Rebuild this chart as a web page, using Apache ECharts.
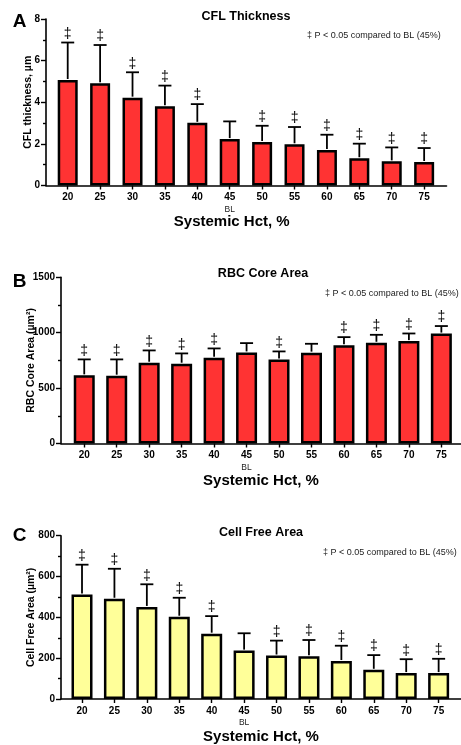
<!DOCTYPE html>
<html>
<head>
<meta charset="utf-8">
<script src="https://cdn.jsdelivr.net/npm/echarts@6/dist/echarts.min.js"></script>
<style>
html,body{margin:0;padding:0;background:#fff;}
#chart{width:461px;height:745px;}
</style>
</head>
<body>
<div id="chart"></div>
<script>
// ---------- data ----------
const categories = ['20', '25', '30', '35', '40', '45', '50', '55', '60', '65', '70', '75'];
const baselineCategory = '45';
const baselineTag = 'BL';
const xAxisTitle = 'Systemic Hct, %';
const noteText = '\u2021 P < 0.05 compared to BL (45%)';
const sigMark = '\u2021';

const panelLetters = ['A', 'B', 'C'];
const panelTitles = ['CFL Thickness', 'RBC Core Area', 'Cell Free Area'];
const yTitles = ['CFL thickness, \u00b5m', 'RBC Core Area (\u00b5m\u00b2)', 'Cell Free Area (\u00b5m\u00b2)'];

const yMax = [8, 1500, 800];
const yStep = [2, 500, 200];

const cflMean  = [5.07, 4.91, 4.22, 3.81, 3.01, 2.23, 2.09, 1.98, 1.71, 1.31, 1.16, 1.13];
const cflUpper = [6.87, 6.75, 5.44, 4.80, 3.91, 3.08, 2.87, 2.81, 2.44, 2.01, 1.83, 1.80];
const cflSig   = [1, 1, 1, 1, 1, 0, 1, 1, 1, 1, 1, 1];

const rbcMean  = [615, 612, 729, 720, 774, 822, 759, 820, 886, 909, 924, 992];
const rbcUpper = [759, 759, 840, 813, 858, 906, 831, 900, 960, 981, 993, 1060];
const rbcSig   = [1, 1, 1, 1, 1, 0, 1, 0, 1, 1, 1, 1];

const cfaMean  = [512, 491, 451, 403, 320, 237, 213, 210, 186, 143, 127, 127];
const cfaUpper = [658, 638, 562, 496, 406, 322, 286, 289, 261, 215, 195, 197];
const cfaSig   = [1, 1, 1, 1, 1, 0, 1, 1, 1, 1, 1, 1];

const means  = [cflMean, rbcMean, cfaMean];
const uppers = [cflUpper, rbcUpper, cfaUpper];
const sigs   = [cflSig, rbcSig, cfaSig];

// ---------- layout / style ----------
const FONT = 'Liberation Sans, Arial, Helvetica, sans-serif';
const barColors = ['#FF3333', '#FF3333', '#FFFF99'];
const grids = [
  {left: 46, top: 19, width: 400.5, height: 166.5},
  {left: 61, top: 277.3, width: 400, height: 166.2},
  {left: 61, top: 535.7, width: 400, height: 167}
];
const xRange = [[-0.67, 11.69], [-0.716, 11.605], [-0.648, 11.69]];
const yNameGap = [12, 24, 24];
const xNamePad = [[0, 29, 0, 0], [0, 0, 0, 0], [0, 0, 0, 0]];
const xNameGap = [29, 30, 30];
const barW = [20, 21, 21];
const letterPos = [[19.5, 21.7], [19.7, 281.5], [19.7, 535.3]];
const titlePos = [[246, 16.2], [263, 274], [261, 532.5]];
const notePos = [[307, 36], [325, 294], [323, 553]];

const idx = categories.map((c, i) => i);
const blIndex = categories.indexOf(baselineCategory);

const option = {
  animation: false,
  backgroundColor: '#fff',
  grid: grids.map(g => Object.assign({containLabel: false}, g)),
  xAxis: grids.map((g, k) => ({
    type: 'value',
    gridIndex: k,
    min: xRange[k][0],
    max: xRange[k][1],
    splitLine: {show: false},
    axisLine: {show: true, onZero: false, lineStyle: {color: '#000', width: 1.6}},
    axisTick: {show: true, customValues: idx, length: 4, lineStyle: {color: '#000', width: 1.4}},
    axisLabel: {
      customValues: idx,
      margin: 6,
      formatter: v => {
        const i = Math.round(v);
        const c = categories[i];
        return i === blIndex ? '{n|' + c + '}\n{b|' + baselineTag + '}' : '{n|' + c + '}';
      },
      rich: {
        n: {fontFamily: FONT, fontWeight: 'bold', fontSize: 10, color: '#000', lineHeight: 12},
        b: {fontFamily: FONT, fontWeight: 'normal', fontSize: 8.5, color: '#222', lineHeight: 12}
      }
    },
    name: xAxisTitle,
    nameLocation: 'middle',
    nameGap: xNameGap[k],
    nameMoveOverlap: false,
    nameTextStyle: {fontFamily: FONT, fontWeight: 'bold', fontSize: 15, color: '#000', padding: xNamePad[k]}
  })),
  yAxis: grids.map((g, k) => ({
    type: 'value',
    gridIndex: k,
    min: 0,
    max: yMax[k],
    interval: yStep[k],
    splitLine: {show: false},
    axisLine: {show: true, onZero: false, lineStyle: {color: '#000', width: 1.6}},
    axisTick: {show: true, length: 5, lineStyle: {color: '#000', width: 1.4}},
    minorTick: {show: true, splitNumber: 2, length: 3, lineStyle: {color: '#000', width: 1.4}},
    axisLabel: {fontFamily: FONT, fontWeight: 'bold', fontSize: 10, color: '#000', margin: 6,
      formatter: v => String(v)},
    name: yTitles[k],
    nameLocation: 'middle',
    nameGap: yNameGap[k],
    nameMoveOverlap: false,
    nameTextStyle: {fontFamily: FONT, fontWeight: 'bold', fontSize: 10.5, color: '#000'}
  })),
  series: [],
  graphic: []
};

for (let k = 0; k < 3; k++) {
  option.series.push({
    type: 'bar',
    xAxisIndex: k,
    yAxisIndex: k,
    barWidth: barW[k],
    data: means[k].map((v, i) => [i, v]),
    itemStyle: {color: barColors[k], borderColor: '#000', borderWidth: 2.5},
    z: 2
  });
  option.series.push({
    type: 'custom',
    xAxisIndex: k,
    yAxisIndex: k,
    data: means[k].map((v, i) => [i, v, uppers[k][i], sigs[k][i]]),
    z: 3,
    renderItem: (params, api) => {
      const x = api.value(0), m = api.value(1), u = api.value(2), s = api.value(3);
      const p0 = api.coord([x, m]);
      const p1 = api.coord([x, u]);
      const hw = 6.5;
      const children = [
        {type: 'line', shape: {x1: p0[0], y1: p0[1] - 1, x2: p1[0], y2: p1[1]}, style: {stroke: '#000', lineWidth: 1.8}},
        {type: 'line', shape: {x1: p1[0] - hw, y1: p1[1], x2: p1[0] + hw, y2: p1[1]}, style: {stroke: '#000', lineWidth: 1.8}}
      ];
      if (s) {
        children.push({
          type: 'text', x: p1[0], y: p1[1] - 1.5,
          style: {text: sigMark, fill: '#000', fontFamily: FONT, fontSize: 14, align: 'center', verticalAlign: 'bottom'}
        });
      }
      return {type: 'group', children: children};
    }
  });
  option.graphic.push({
    type: 'text', x: letterPos[k][0], y: letterPos[k][1],
    style: {text: panelLetters[k], fill: '#000', fontFamily: FONT, fontWeight: 'bold', fontSize: 19, align: 'center', verticalAlign: 'middle'}
  });
  option.graphic.push({
    type: 'text', x: titlePos[k][0], y: titlePos[k][1],
    style: {text: panelTitles[k], fill: '#000', fontFamily: FONT, fontWeight: 'bold', fontSize: 12.5, align: 'center', verticalAlign: 'middle'}
  });
  option.graphic.push({
    type: 'text', x: notePos[k][0], y: notePos[k][1],
    style: {text: noteText, fill: '#222', fontFamily: FONT, fontSize: 9, align: 'left', verticalAlign: 'middle'}
  });
}

const chart = echarts.init(document.getElementById('chart'), null, {renderer: 'canvas'});
chart.setOption(option);
</script>
</body>
</html>
